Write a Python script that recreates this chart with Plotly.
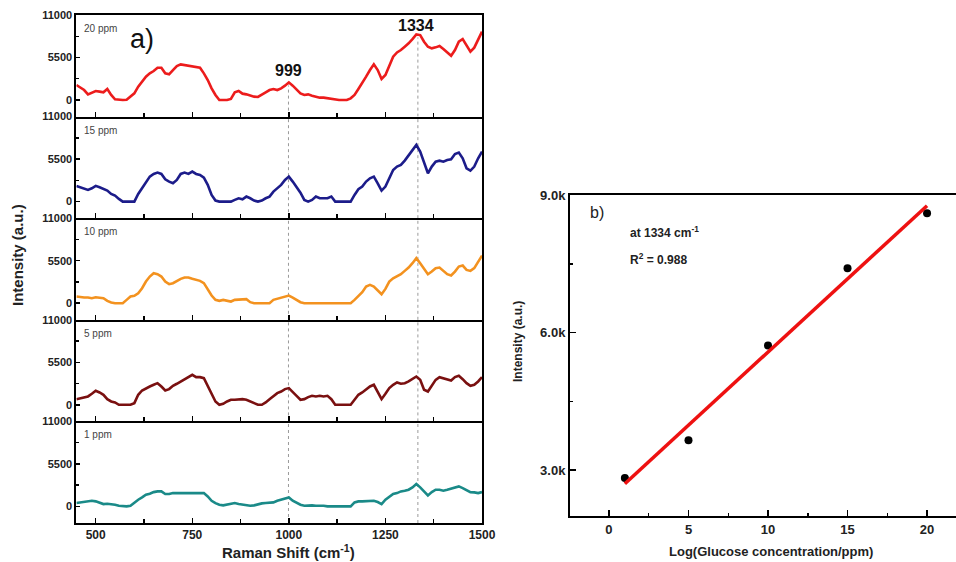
import numpy as np
import plotly.graph_objects as go

# ---------------- data ----------------
raman_shift = list(range(450, 1501, 10))

labels = ["20 ppm", "15 ppm", "10 ppm", "5 ppm", "1 ppm"]
colors = ["#ec1c1c", "#1c1c8a", "#f3921f", "#7a1010", "#1a8a88"]

ppm20 = [1940, 1595, 1290, 730, 990, 1160, 1080, 990, 1420, 650,
         90, 0, 0, 40, 430, 860, 1720, 2370, 3020, 3450,
         3750, 4180, 4180, 3450, 3320, 3880, 4400, 4610, 4530, 4400,
         4310, 4310, 4180, 3450, 2590, 1510, 650, 0, 0, 0,
         130, 990, 1160, 820, 730, 560, 430, 390, 730, 990,
         1290, 1420, 1290, 1510, 1850, 2280, 1850, 1290, 860, 650,
         730, 560, 430, 300, 300, 215, 130, 0, 0, 0,
         0, 215, 650, 1420, 2160, 3020, 3880, 4610, 3880, 2720,
         3230, 4530, 5600, 6160, 6470, 6900, 7330, 7890, 8490, 8400,
         7540, 6900, 6680, 6810, 6980, 6590, 6160, 5730, 6470, 7540,
         7890, 7110, 6250, 6770, 7760, 8840]

ppm15 = [2030, 1850, 1720, 1510, 1720, 2030, 1850, 1595, 1420, 990,
         775, 345, 0, 0, 0, 0, 990, 1720, 2590, 3230,
         3580, 3750, 3580, 2890, 2590, 2370, 2800, 3580, 3750, 3580,
         3880, 3580, 3450, 3100, 2160, 860, 130, 0, 0, 0,
         0, 215, 430, 300, 650, 430, 130, 0, 130, 430,
         650, 1290, 1720, 2160, 2800, 3230, 2590, 1940, 1160, 215,
         0, 215, 650, 430, 430, 430, 650, 0, 0, 0,
         0, 0, 860, 1595, 1940, 2590, 3020, 3230, 2370, 1420,
         1940, 3020, 4090, 4530, 4740, 5300, 6030, 6680, 7330, 6470,
         4960, 3660, 4530, 5170, 5300, 5170, 5390, 5470, 6160, 6340,
         5600, 4310, 4010, 4530, 5600, 6470]

ppm10 = [860, 775, 730, 730, 650, 775, 730, 650, 300, 90,
         0, 0, 0, 430, 860, 950, 1290, 1940, 2800, 3450,
         3880, 3750, 3450, 2800, 2460, 2590, 2890, 3150, 3320, 3320,
         3150, 3020, 2890, 2590, 1720, 990, 430, 300, 430, 300,
         215, 430, 475, 430, 520, 130, 0, 0, 0, 0,
         0, 430, 560, 730, 860, 990, 730, 430, 130, 0,
         0, 0, 0, 0, 0, 0, 0, 0, 0, 0,
         0, 0, 430, 860, 1420, 2160, 2370, 2160, 1595, 1160,
         1850, 2800, 3230, 3450, 3750, 4180, 4610, 5170, 5820, 5170,
         4530, 3750, 4090, 4530, 4610, 4180, 3750, 3580, 4090, 4740,
         4870, 4310, 4180, 4530, 5390, 6160]

ppm5 = [730, 860, 990, 1080, 1420, 1810, 1595, 1290, 730, 430,
        300, 0, 0, 0, 0, 215, 1290, 1850, 2160, 2370,
        2590, 2800, 2370, 1850, 2030, 2460, 2720, 3020, 3320, 3660,
        3880, 3580, 3580, 3450, 2460, 1290, 430, 0, 130, 430,
        650, 650, 730, 730, 650, 430, 130, 0, 0, 300,
        730, 1160, 1510, 1720, 2030, 2160, 1720, 1160, 650, 730,
        990, 1160, 1080, 1160, 1080, 1160, 730, 0, 0, 0,
        0, 0, 650, 1290, 1595, 2030, 2370, 2590, 1720, 730,
        1420, 2160, 2590, 2890, 2720, 2800, 3020, 3320, 3660, 3230,
        1940, 1720, 2460, 3230, 3580, 3450, 3320, 3150, 3580, 3750,
        3320, 2800, 2460, 2590, 3020, 3580]

ppm1 = [430, 520, 560, 650, 730, 650, 520, 300, 345, 300,
        215, 90, 0, 0, 90, 520, 860, 1160, 1510, 1640,
        1850, 1940, 1940, 1595, 1595, 1720, 1720, 1720, 1770, 1810,
        1810, 1810, 1810, 1720, 1290, 730, 430, 215, 130, 215,
        345, 430, 300, 215, 130, 90, 130, 300, 390, 430,
        430, 520, 730, 860, 990, 1160, 730, 430, 215, 90,
        130, 130, 90, 130, 90, 0, 0, 0, 0, 0,
        0, 0, 520, 650, 650, 650, 730, 730, 560, 300,
        860, 1290, 1595, 1720, 1940, 2030, 2160, 2460, 2890, 2460,
        1940, 1420, 1850, 2160, 2160, 2030, 2160, 2280, 2460, 2590,
        2370, 2160, 1850, 1810, 1720, 1850]

spectra = [ppm20, ppm15, ppm10, ppm5, ppm1]

x_major = [500, 750, 1000, 1250, 1500]
x_minor = [625, 875, 1125, 1375]
y_major = [0, 5500, 11000]
y_minor = [2750, 8250]

peak_labels = [999, 1334]

conc = [1, 5, 10, 15, 20]
intensity = [2830, 3650, 5720, 7400, 8600]
r2_text = "0.988"

b_x_major = [0, 5, 10, 15, 20]
b_x_minor = [2.5, 7.5, 12.5, 17.5]
b_y_major = [3000, 6000, 9000]
b_y_ticktext = ["3.0k", "6.0k", "9.0k"]
b_y_minor = [4500, 7500]

# ---------------- figure ----------------
W, H = 956, 562
FONT = "Liberation Sans, Arial, sans-serif"


def px(x):
    return x / W


def py(y):
    return 1 - y / H


def note(text, x, y, size, color="#222", xanchor="center", angle=0):
    return dict(text=text, x=px(x), y=py(y), xref="paper", yref="paper",
                xanchor=xanchor, yanchor="middle", showarrow=False,
                textangle=angle, font=dict(size=size, family=FONT, color=color))


fig = go.Figure()
layout = dict(template="none", width=W, height=H, autosize=False,
              margin=dict(l=0, r=0, t=0, b=0, pad=0),
              paper_bgcolor="white", plot_bgcolor="white",
              showlegend=False, font=dict(family=FONT, color="black"))

left_x0, left_x1 = 76.4, 482
top, bottom = 15, 523
ph = (bottom - top) / 5
annotations = []
shapes = []

for i, (lab, col, vals) in enumerate(zip(labels, colors, spectra)):
    n = i + 1
    sfx = "" if n == 1 else str(n)
    fig.add_trace(go.Scatter(x=raman_shift, y=vals, mode="lines",
                             line=dict(color=col, width=2.6),
                             xaxis="x" + sfx, yaxis="y" + sfx,
                             hoverinfo="skip"))
    t = top + ph * i
    b = t + ph
    layout["xaxis" + sfx] = dict(
        domain=[px(left_x0), px(left_x1)], range=[450, 1500],
        anchor="y" + sfx, showline=True, linecolor="black", linewidth=2,
        mirror=(n == 1), ticks="inside", ticklen=5, tickwidth=1.5,
        tickcolor="black", automargin=False,
        tickvals=x_major, showgrid=False, zeroline=False,
        showticklabels=(n == 5),
        tickfont=dict(size=12, weight="bold", family=FONT, color="#222"),
        minor=dict(tickvals=x_minor, ticks="inside", ticklen=4,
                   tickwidth=1.5, tickcolor="black"),
    )
    layout["yaxis" + sfx] = dict(
        domain=[py(b), py(t)], range=[-2150, 11000],
        anchor="x" + sfx, showline=True, linecolor="black", linewidth=2,
        mirror=True, ticks="inside", ticklen=4, tickwidth=1.5,
        tickcolor="black", automargin=False, tickformat="d",
        tickvals=y_major, showgrid=False, zeroline=False,
        tickfont=dict(size=11, weight="bold", family=FONT, color="#222"),
        minor=dict(tickvals=y_minor, ticks="inside", ticklen=3,
                   tickwidth=1.5, tickcolor="black"),
    )
    annotations.append(note(lab, 82, t + 13.5, 10, color="#444", xanchor="left"))
    # dotted peak markers
    for pk in peak_labels:
        if n == 1:
            yy = vals[raman_shift.index(int(round(pk, -1)))]
            shapes.append(dict(type="line", xref="x", yref="y", x0=pk, x1=pk,
                               y0=-2150, y1=yy - 400, layer="below",
                               line=dict(color="#9a9a9a", width=1, dash="dot")))
        else:
            shapes.append(dict(type="line", xref="x" + sfx,
                               yref="y" + sfx + " domain",
                               x0=pk, x1=pk, y0=0, y1=1, layer="below",
                               line=dict(color="#9a9a9a", width=1, dash="dot")))

annotations += [
    note("a)", 142, 39, 27, color="#111"),
    note("<b>999</b>", 288, 70, 16, color="#111"),
    note("<b>1334</b>", 416, 26, 16, color="#111"),
    note("<b>Raman Shift (cm<sup>-1</sup>)</b>", 288, 551, 15),
    note("<b>Intensity (a.u.)</b>", 17, 255, 15, angle=-90),
]

# ---------------- panel b ----------------
fig.add_trace(go.Scatter(x=conc, y=intensity, mode="markers",
                         marker=dict(color="black", size=8),
                         xaxis="x6", yaxis="y6", hoverinfo="skip"))
slope, icpt = np.polyfit(conc, intensity, 1)
fit_x = [conc[0], conc[-1]]
fit_y = [slope * v + icpt for v in fit_x]
fig.add_trace(go.Scatter(x=fit_x, y=fit_y, mode="lines",
                         line=dict(color="#ee1111", width=3.5),
                         xaxis="x6", yaxis="y6", hoverinfo="skip"))

layout["xaxis6"] = dict(
    domain=[px(570), 1.0], range=[-2.45, 21.82], anchor="y6",
    showline=True, linecolor="black", linewidth=2, mirror=True,
    ticks="inside", ticklen=6, tickwidth=1.5, tickcolor="black",
    automargin=False, tickvals=b_x_major,
    showgrid=False, zeroline=False,
    tickfont=dict(size=13, weight="bold", family=FONT, color="#222"),
    minor=dict(tickvals=b_x_minor, ticks="inside", ticklen=3,
               tickwidth=1.5, tickcolor="black"),
)
layout["yaxis6"] = dict(
    domain=[py(516), py(195)], range=[2000, 9000], anchor="x6",
    showline=True, linecolor="black", linewidth=2,
    ticks="inside", ticklen=6, tickwidth=1.5, tickcolor="black",
    automargin=False, tickvals=b_y_major,
    ticktext=b_y_ticktext, showgrid=False, zeroline=False,
    tickfont=dict(size=13, weight="bold", family=FONT, color="#222"),
    minor=dict(tickvals=b_y_minor, ticks="inside", ticklen=3,
               tickwidth=1.5, tickcolor="black"),
)

annotations += [
    note("b)", 597, 213, 16),
    note("<b>at 1334 cm<sup>-1</sup></b>", 628, 232, 12, xanchor="left"),
    note("<b>R<sup>2</sup> = " + r2_text + "</b>", 628, 259, 12, xanchor="left"),
    note("<b>Intensity (a.u.)</b>", 518, 342, 12, angle=-90),
    note("<b>Log(Glucose concentration/ppm)</b>", 771, 551, 13),
]

layout["annotations"] = annotations
layout["shapes"] = shapes
fig.update_layout(**layout)
fig.write_html("out.html",
               config={"displayModeBar": False, "staticPlot": True},
               post_script="document.body.style.margin='0';"
                           "document.body.style.padding='0';")
